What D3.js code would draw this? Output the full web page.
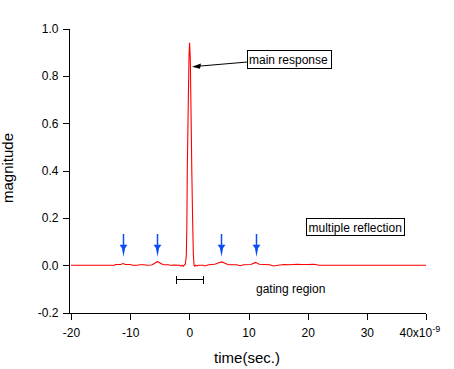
<!DOCTYPE html>
<html>
<head>
<meta charset="utf-8">
<script src="https://cdn.jsdelivr.net/npm/d3@7"></script>
<style>
  html, body { margin: 0; padding: 0; background: #fff; }
  svg { display: block; font-family: "Liberation Sans", Arial, sans-serif; }
</style>
</head>
<body>
<svg id="chart" width="454" height="369"></svg>
<script>
// ---- data (time in ns, magnitude) ----
const timeNs = [-20, -12.6, -12.5, -11.6, -11.2, -10.8, -10.0, -9.6, -8.8, -8.4, -7.6, -7.2, -6.4, -5.9, -5.4, -4.9, -4.4, -3.6, -3.2, -2.5, -1.6, -1.4, -1.2, -1.0, -0.85, -0.68, -0.51, -0.42, -0.34, -0.17, -0.05, 0.05, 0.17, 0.29, 0.42, 0.55, 0.68, 0.8, 0.9, 1.1, 1.3, 1.5, 2.4, 2.6, 3.0, 3.6, 4.3, 5.0, 5.5, 6.0, 6.6, 8.0, 8.6, 9.2, 10.4, 11.2, 11.8, 12.6, 13.6, 14.2, 15.0, 16.0, 17.0, 18.2, 19.0, 20.0, 21.0, 22.0, 40];
const magnitude = [0, 0, 0.003, 0.003, 0.007, 0.003, 0.003, 0.0, 0.0, 0.002, 0.002, 0.0, 0.001, 0.007, 0.016, 0.008, 0.002, 0.002, 0.0, 0.001, 0.0, -0.004, 0.0, -0.004, 0.0, 0.004, 0.04, 0.163, 0.41, 0.70, 0.889, 0.941, 0.866, 0.644, 0.396, 0.2, 0.044, 0.0, -0.004, 0.0, -0.003, 0.0, 0.0, -0.003, 0.0, 0.003, 0.004, 0.010, 0.014, 0.008, 0.002, 0.002, -0.002, 0.002, 0.003, 0.012, 0.004, 0.003, 0.002, -0.003, 0.0, 0.003, 0.002, 0.004, 0.003, 0.003, 0.004, 0.0, 0.0];
const xTicks = [-20, -10, 0, 10, 20, 30, 40];
const yTicks = [-0.2, 0.0, 0.2, 0.4, 0.6, 0.8, 1.0];
const xLabel = "time(sec.)";
const yLabel = "magnitude";
const reflectionTimes = [-11.2, -5.4, 5.4, 11.2];
const gateRange = [-2.3, 2.35];
const gateLevel = -0.059;
const mainRespTip = [0.45, 0.84];
const mainRespLabel = "main response";
const multiLabel = "multiple reflection";
const gateLabel = "gating region";

// ---- layout ----
const svg = d3.select("#chart");
const x = d3.scaleLinear().domain([-20, 40]).range([71, 426]);
const y = d3.scaleLinear().domain([-0.2, 1.0]).range([312.5, 28.8]);
const axisX = 69.5, axisY = 313.5;

// axes lines
svg.append("line").attr("x1", axisX).attr("x2", axisX).attr("y1", y(1.0)).attr("y2", axisY)
  .attr("stroke", "#000").attr("stroke-width", 1).attr("shape-rendering", "crispEdges");
svg.append("line").attr("x1", axisX).attr("x2", x(40)).attr("y1", axisY).attr("y2", axisY)
  .attr("stroke", "#000").attr("stroke-width", 1).attr("shape-rendering", "crispEdges");

// y axis
const gy = svg.append("g").attr("transform", `translate(${axisX},0)`)
  .call(d3.axisLeft(y).tickValues(yTicks).tickSize(7).tickPadding(4).tickFormat(d => d.toFixed(1)));
gy.select(".domain").remove();
gy.selectAll("line").attr("shape-rendering", "crispEdges");
gy.selectAll("text").attr("font-size", 12).attr("font-family", "Liberation Sans, Arial, sans-serif").attr("fill", "#000");

// x axis
const gx = svg.append("g").attr("transform", `translate(0,${axisY})`)
  .call(d3.axisBottom(x).tickValues(xTicks).tickSize(6).tickPadding(9).tickFormat(d => d === 40 ? "" : String(d)));
gx.select(".domain").remove();
gx.selectAll("line").attr("shape-rendering", "crispEdges");
gx.selectAll("text").attr("font-size", 12).attr("font-family", "Liberation Sans, Arial, sans-serif").attr("fill", "#000");
// last label with exponent
const last = gx.selectAll(".tick").filter(d => d === 40).select("text")
  .attr("text-anchor", "start").attr("x", -27);
last.append("tspan").text("40x10");
last.append("tspan").attr("font-size", 9).attr("dy", "-0.55em").text("-9");

// axis titles
svg.append("text").attr("x", 247).attr("y", 363).attr("text-anchor", "middle")
  .attr("font-size", 15).text(xLabel);
svg.append("text").attr("transform", "translate(13,168) rotate(-90)").attr("text-anchor", "middle")
  .attr("font-size", 15).text(yLabel);

// data line
const pts = timeNs.map((t, i) => [t, magnitude[i]]);
svg.append("path").datum(pts)
  .attr("d", d3.line().x(d => x(d[0])).y(d => y(d[1])))
  .attr("fill", "none").attr("stroke", "#ff0000").attr("stroke-width", 1.1);

// reflection arrows
const blue = "#0a4cf5";
reflectionTimes.forEach(t => {
  const cx = Math.round(x(t)) + 0.5;
  svg.append("line").attr("x1", cx).attr("x2", cx).attr("y1", y(0.132)).attr("y2", y(0.06))
    .attr("stroke", blue).attr("stroke-width", 1.5);
  svg.append("path")
    .attr("d", `M${cx - 4},${y(0.087)} L${cx + 4},${y(0.087)} L${cx + 1.5},${y(0.072)} L${cx},${y(0.035)} L${cx - 1.5},${y(0.072)} Z`)
    .attr("fill", blue);
});

// gating bracket
const gyPix = Math.round(y(gateLevel)) + 0.5;
const g0 = Math.round(x(gateRange[0])) + 0.5, g1 = Math.round(x(gateRange[1])) + 0.5;
svg.append("path").attr("d", `M${g0},${gyPix - 4} V${gyPix + 4} M${g0},${gyPix} H${g1} M${g1},${gyPix - 4} V${gyPix + 4}`)
  .attr("stroke", "#000").attr("fill", "none").attr("stroke-width", 1).attr("shape-rendering", "crispEdges");
svg.append("text").attr("x", 256).attr("y", 293).attr("font-size", 12).text(gateLabel);

// main response label box + arrow
const mr = svg.append("g");
mr.append("rect").attr("x", 247.5).attr("y", 50.5).attr("width", 84).attr("height", 18)
  .attr("fill", "#fff").attr("stroke", "#000").attr("stroke-width", 1);
mr.append("text").attr("x", 249).attr("y", 64).attr("font-size", 12).text(mainRespLabel);
const tipX = x(mainRespTip[0]), tipY = y(mainRespTip[1]);
svg.append("line").attr("x1", 247.5).attr("y1", 62).attr("x2", tipX + 6).attr("y2", tipY - 0.4)
  .attr("stroke", "#000").attr("stroke-width", 1);
svg.append("path").attr("d", `M${tipX},${tipY} L${tipX + 9},${tipY - 3.2} L${tipX + 8},${tipY + 2.2} Z`).attr("fill", "#000");

// multiple reflection box
svg.append("rect").attr("x", 306.5).attr("y", 218.5).attr("width", 98).attr("height", 17)
  .attr("fill", "#fff").attr("stroke", "#000").attr("stroke-width", 1);
svg.append("text").attr("x", 308.5).attr("y", 231.5).attr("font-size", 12).text(multiLabel);
</script>
</body>
</html>
